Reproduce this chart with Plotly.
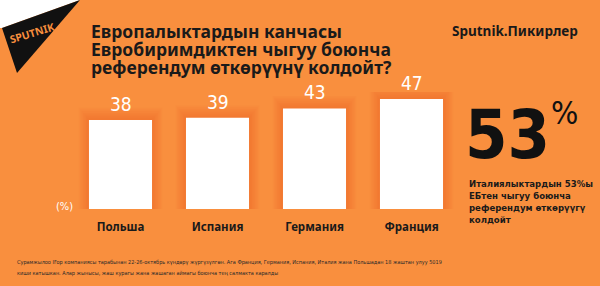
import plotly.graph_objects as go

# ---- data ----
categories = ["Польша", "Испания", "Германия", "Франция"]
values = [38, 39, 43, 47]
value_labels = ["38", "39", "43", "47"]
title_lines = ["Европалыктардын канчасы", "Евробиримдиктен чыгуу боюнча", "референдум өткөрүүнү колдойт?"]
brand = "Sputnik.Пикирлер"
big_value = "53"
side_lines = ["Италиялыктардын 53%ы", "ЕБтен чыгуу боюнча", "референдум өткөрүүгү", "колдойт"]
footer_lines = [
    "Сурамжылоо IFop компаниясы тарабынан 22-26-октябрь күндөрү жүргүзүлгөн. Ага Франция, Германия, Испания, Италия жана Польшадан 18 жаштан улуу 5019",
    "киши катышкан. Алар жынысы, жаш курагы жана жашаган аймагы боюнча тең салмакта каралды",
]
unit_label = "(%)"

# ---- layout geometry ----
W, H = 600, 286
ML, MR, MT, MB = 72, 140, 92, 77
PW, PH = W - ML - MR, H - MT - MB
BG = "#F98F3E"
NARROW = "DejaVu Sans Condensed, Liberation Sans Narrow, sans-serif"
BOLD = "Noto Sans, DejaVu Sans, sans-serif"


def px(x):
    return (x - ML) / PW


def py(y):
    return (H - MB - y) / PH


fig = go.Figure()

# soft glow layers behind bars
for k in range(7, 0, -1):
    fig.add_trace(go.Bar(
        x=categories, y=[v + 0.75 * k for v in values], base=0,
        width=0.65 + 0.03 * k, marker=dict(color="#EE6326", line=dict(width=0)),
        opacity=0.075, hoverinfo="skip", showlegend=False,
    ))

fig.add_trace(go.Bar(
    x=categories, y=values, width=0.65,
    marker=dict(color="#FFFFFF", line=dict(width=0)),
    showlegend=False,
))

annotations = []
for c, v, t in zip(categories, values, value_labels):
    annotations.append(dict(x=c, y=v, xref="x", yref="y", text=t, showarrow=False,
                            xanchor="center", yanchor="bottom", yshift=3,
                            font=dict(family=NARROW, size=19, color="#FFFFFF")))

for i, line in enumerate(title_lines):
    annotations.append(dict(x=px(89), y=py(31 + 18 * i), xref="paper", yref="paper",
                            text="<b>" + line + "</b>", showarrow=False,
                            xanchor="left", yanchor="middle",
                            font=dict(family=BOLD, size=17.5, color="#1A1A1A")))

annotations.append(dict(x=px(450), y=py(31), xref="paper", yref="paper",
                        text="<b>" + brand + "</b>", showarrow=False,
                        xanchor="left", yanchor="middle",
                        font=dict(family=BOLD, size=13.5, color="#1A1A1A")))

annotations.append(dict(x=px(463), y=py(134), xref="paper", yref="paper",
                        text="<b>" + big_value + "</b>", showarrow=False,
                        xanchor="left", yanchor="middle",
                        font=dict(family=NARROW, size=68, color="#111111")))
annotations.append(dict(x=px(549), y=py(113), xref="paper", yref="paper",
                        text="%", showarrow=False,
                        xanchor="left", yanchor="middle",
                        font=dict(family=NARROW, size=32, color="#111111")))

for i, line in enumerate(side_lines):
    annotations.append(dict(x=px(467), y=py(183 + 12 * i), xref="paper", yref="paper",
                            text="<b>" + line + "</b>", showarrow=False,
                            xanchor="left", yanchor="middle",
                            font=dict(family=NARROW, size=9.5, color="#1A1A1A")))

annotations.append(dict(x=px(75), y=py(206), xref="paper", yref="paper",
                        text=unit_label, showarrow=False, xanchor="right", yanchor="middle",
                        font=dict(family=NARROW, size=11, color="#FFFFFF")))

for i, line in enumerate(footer_lines):
    annotations.append(dict(x=px(15), y=py(262 + 11 * i), xref="paper", yref="paper",
                            text=line, showarrow=False, xanchor="left", yanchor="middle",
                            font=dict(family=NARROW, size=5.5, color="#2A2A2A")))

# logo text
annotations.append(dict(x=px(32), y=py(33), xref="paper", yref="paper",
                        text="<b>SPUTNIK</b>", showarrow=False, textangle=-17,
                        xanchor="center", yanchor="middle",
                        font=dict(family=BOLD, size=10.5, color=BG)))


def path(points):
    return "M " + " L ".join(f"{px(a):.5f},{py(b):.5f}" for a, b in points) + " Z"


shapes = [
    dict(type="path", xref="paper", yref="paper", path=path([(0, 0), (80, 0), (2, 28), (0, 28)]),
         fillcolor="#FFFFFF", line=dict(width=0), layer="below"),
    dict(type="path", xref="paper", yref="paper", path=path([(2, 28), (80, 0), (17, 73)]),
         fillcolor="#111111", line=dict(width=0), layer="below"),
]

fig.update_layout(
    width=W, height=H,
    margin=dict(l=ML, r=MR, t=MT, b=MB),
    paper_bgcolor=BG, plot_bgcolor=BG,
    barmode="overlay",
    xaxis=dict(range=[-0.5, 3.5], showgrid=False, zeroline=False, showline=False,
               tickfont=dict(family=BOLD, size=11.5, color="#1A1A1A"),
               ticklabelstandoff=9, ticks=""),
    yaxis=dict(range=[0, 50], visible=False, showgrid=False, zeroline=False),
    annotations=annotations,
    shapes=shapes,
)
fig.update_xaxes(ticktext=["<b>" + c + "</b>" for c in categories], tickvals=categories)

fig.write_html("out.html")
